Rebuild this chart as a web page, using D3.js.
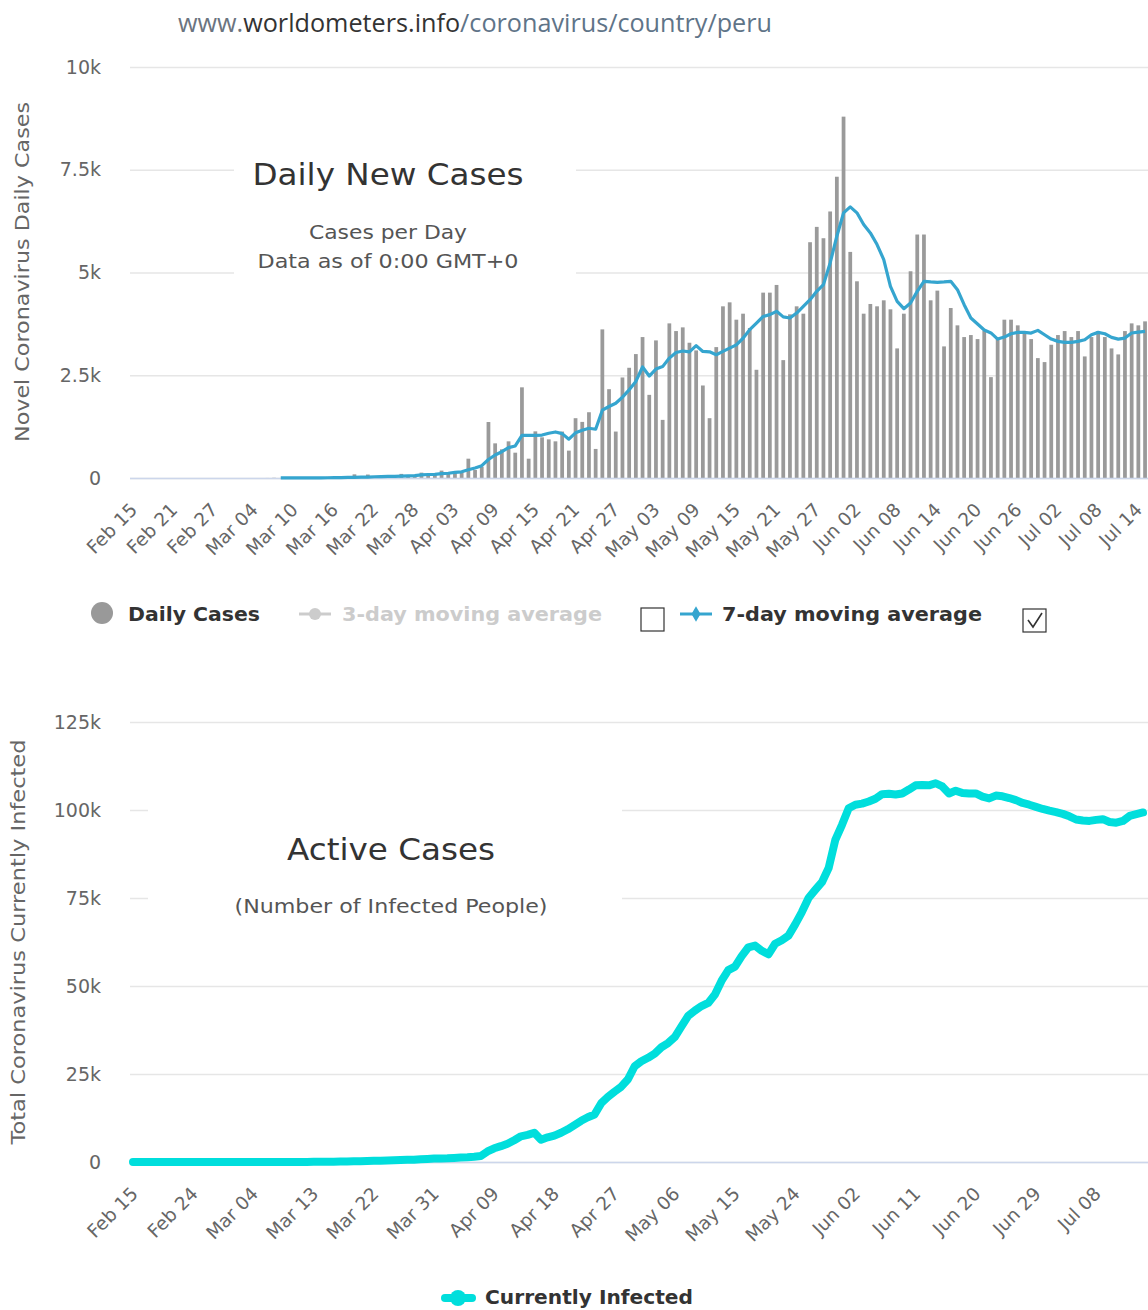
<!DOCTYPE html>
<html>
<head>
<meta charset="utf-8">
<script src="https://cdnjs.cloudflare.com/ajax/libs/d3/7.8.5/d3.min.js"></script>
<style>
body { margin: 0; background: #fff; }
svg { display: block; font-family: "DejaVu Sans", "Noto Sans", sans-serif; }
</style>
</head>
<body>
<div class="container"></div>
<script>
// categories: one per day, Feb 15 .. Jul 15 2020
var days = d3.timeDay.range(new Date(2020, 1, 15), new Date(2020, 6, 16));
var fmt = d3.timeFormat("%b %d");
var categories = days.map(fmt);

// daily new cases (bars)
var dailyCases = [
  0,0,0,0,0,0,0,0,0,0,0,0,0,0,0,0,0,0,0,0,
  1,5,0,3,2,6,5,16,5,28,15,31,28,89,0,84,45,32,21,64,100,55,36,
  130,90,115,180,115,150,150,470,195,275,1362,843,697,892,616,2206,470,1135,989,940,892,
  1130,666,1455,1365,1600,707,3616,2161,1130,2446,2682,3015,3429,2023,3348,1414,3762,3575,3665,3291,
  3104,2251,1455,3185,4177,4274,3852,3998,3649,2633,4510,4510,4697,2868,3982,4177,
  3998,5737,6110,5834,6485,7330,8792,5501,4786,3998,4234,4177,4323,4104,3153,3998,5030,5924,5924,4323,
  4559,3202,4136,3714,3429,3478,3380,3584,2454,3380,
  3852,3852,3714,3567,3380,2917,2820,3242,3478,3575,3429,3575,2958,3429,3575,3429,3153,3007,3575,3762,
  3714,3811
];

// 7-day moving average (line)
var avg7 = [
  null,null,null,null,null,null,null,null,null,null,null,null,null,null,null,null,null,null,null,null,null,null,
  1,1,2,2,3,4,5,6,8,10,13,15,21,22,30,34,38,40,46,52,58,
  75,85,90,105,115,135,150,200,245,300,450,560,640,740,780,1035,1040,1035,1045,1090,1120,
  1080,945,1100,1160,1210,1186,1650,1740,1820,1966,2145,2350,2700,2480,2650,2710,2917,3055,3090,3070,
  3220,3080,3070,3000,3080,3160,3240,3400,3610,3770,3930,3975,4055,3920,3892,4014,
  4177,4339,4542,4705,5233,5883,6452,6598,6452,6168,5964,5680,5314,4664,4299,4120,4258,4542,4786,4770,
  4762,4770,4786,4583,4217,3892,3746,3600,3530,3380,
  3429,3510,3543,3543,3527,3592,3486,3380,3324,3299,3299,3324,3364,3486,3543,3510,3421,3380,3405,3527,
  3551,3567
];

// active cases (currently infected)
var activeCases = [
  0,0,0,0,0,0,0,0,0,0,0,0,0,0,0,0,0,0,0,0,
  1,6,7,9,11,17,22,38,43,71,86,117,145,232,232,313,355,386,404,463,
  560,612,645,800,880,970,1000,1050,1150,1250,1350,1500,
  1700,3000,3900,4500,5200,6200,7300,7700,8300,6300,7000,7500,8300,9300,10500,11700,12700,13500,16700,18500,
  20000,21400,23500,27200,28600,29600,30800,32600,33800,35500,38500,41500,43000,44300,45200,47600,51500,54500,55500,58500,
  61000,61500,60000,59000,62000,63000,64300,
  67500,71000,75000,77300,79500,83500,91500,95800,100500,101500,
  101800,102400,103200,104500,104600,104400,104700,105800,107000,107100,
  107000,107600,106700,104700,105500,104800,104700,104700,103800,103300,
  104100,103900,103400,102800,102000,101500,100900,100300,99800,99400,
  98900,98200,97300,97000,96900,97200,97400,96600,96400,96900,
  98300,98800,99300
];

var dailyTickLabels = ["Feb 15","Feb 21","Feb 27","Mar 04","Mar 10","Mar 16","Mar 22","Mar 28",
  "Apr 03","Apr 09","Apr 15","Apr 21","Apr 27","May 03","May 09","May 15","May 21","May 27",
  "Jun 02","Jun 08","Jun 14","Jun 20","Jun 26","Jul 02","Jul 08","Jul 14"];
var activeTickLabels = ["Feb 15","Feb 24","Mar 04","Mar 13","Mar 22","Mar 31","Apr 09","Apr 18",
  "Apr 27","May 06","May 15","May 24","Jun 02","Jun 11","Jun 20","Jun 29","Jul 08"];
var dailyYTicks = [0, 2500, 5000, 7500, 10000];
var activeYTicks = [0, 25000, 50000, 75000, 100000, 125000];

var svg = d3.select(".container").insert("svg")
  .attr("width", 1148)
  .attr("height", 1310);

function kfmt(v) { return v === 0 ? "0" : (v / 1000) + "k"; }

// stretch a text to the width it has in the picture
function fit(sel, w) {
  return sel.attr("textLength", w).attr("lengthAdjust", "spacingAndGlyphs");
}

function drawGrid(y, ticks, left, right) {
  svg.append("g")
    .attr("transform", "translate(" + left + ",0)")
    .call(d3.axisLeft(y).tickValues(ticks).tickSize(-(right - left)).tickFormat(""))
    .call(function (g) { g.select(".domain").remove(); })
    .selectAll("line").attr("stroke", "#e6e6e6").attr("stroke-width", 1.5);
  svg.append("g")
    .attr("transform", "translate(101,0)")
    .call(d3.axisLeft(y).tickValues(ticks).tickSize(0).tickFormat(kfmt))
    .call(function (g) { g.select(".domain").remove(); })
    .selectAll("text")
    .attr("x", 0)
    .style("font-family", "DejaVu Sans")
    .style("font-size", "19px")
    .attr("fill", "#666");
}

function drawXLabels(x, labels, y0, offset) {
  svg.append("g").selectAll("text")
    .data(labels).enter().append("text")
    .attr("transform", function (d) { return "translate(" + (x(d) + offset) + "," + (y0 + 33) + ") rotate(-45)"; })
    .attr("text-anchor", "end")
    .style("font-size", "18.5px")
    .attr("fill", "#666")
    .text(function (d) { return d; });
}

function yTitle(text, cx, cy, w) {
  fit(svg.append("text")
    .attr("transform", "translate(" + cx + "," + cy + ") rotate(-90)")
    .attr("text-anchor", "middle")
    .style("font-size", "19px")
    .attr("fill", "#666")
    .text(text), w);
}

function titleBlock(cx, title, ty, tw, subs, sy, sw, box) {
  svg.append("rect").attr("x", box[0]).attr("y", box[1]).attr("width", box[2]).attr("height", box[3]).attr("fill", "#fff");
  fit(svg.append("text").attr("x", cx - tw / 2).attr("y", ty)
    .style("font-size", "31px").attr("fill", "#333").text(title), tw);
  subs.forEach(function (s, k) {
    fit(svg.append("text").attr("x", cx - sw[k] / 2).attr("y", sy + k * 29)
      .style("font-size", "19.5px").attr("fill", "#555").text(s), sw[k]);
  });
}

// url header
var url = svg.append("text").attr("x", 178).attr("y", 32).style("font-family", "Open Sans").style("font-size", "25px");
url.append("tspan").attr("fill", "#6b7480").text("www.");
url.append("tspan").attr("fill", "#333").text("worldometers.info");
url.append("tspan").attr("fill", "#5f7488").text("/coronavirus/country/peru");
fit(url, 594);

// ---------- top chart: daily new cases ----------
var x1 = d3.scaleBand().domain(categories).range([130, 130 + categories.length * 6.7]).paddingInner(0.44).paddingOuter(0.22);
var y1 = d3.scaleLinear().domain([0, 10000]).range([478, 67]);

drawGrid(y1, dailyYTicks, 130, 1148);
titleBlock(388, "Daily New Cases", 185, 271, ["Cases per Day", "Data as of 0:00 GMT+0"], 239, [158, 261], [234, 140, 342, 152]);

svg.append("g").selectAll("rect")
  .data(dailyCases).enter().append("rect")
  .attr("x", function (d, i) { return x1(categories[i]); })
  .attr("width", x1.bandwidth())
  .attr("y", function (d) { return y1(d); })
  .attr("height", function (d) { return 478 - y1(d); })
  .attr("fill", "#9a9a9a");

svg.append("line").attr("x1", 130).attr("x2", 1148).attr("y1", 478.5).attr("y2", 478.5)
  .attr("stroke", "#ccd6eb").attr("stroke-width", 1.5);

var line7 = d3.line()
  .defined(function (d) { return d !== null; })
  .x(function (d, i) { return x1(categories[i]) + x1.bandwidth() / 2; })
  .y(function (d) { return y1(d); });
svg.append("path").datum(avg7).attr("d", line7)
  .attr("fill", "none").attr("stroke", "#35a5cf").attr("stroke-width", 3.2).attr("stroke-linejoin", "round");

var x1c = function (d) { return x1(d) + x1.bandwidth() / 2; };
drawXLabels(x1c, dailyTickLabels, 478, 5);
yTitle("Novel Coronavirus Daily Cases", 29, 272, 340);

// legend top
var lg = svg.append("g").style("font-weight", "bold").style("font-size", "20px");
lg.append("circle").attr("cx", 102).attr("cy", 613).attr("r", 11).attr("fill", "#999");
fit(lg.append("text").attr("x", 128).attr("y", 621).attr("fill", "#333").text("Daily Cases"), 132);
lg.append("line").attr("x1", 299).attr("x2", 331).attr("y1", 614).attr("y2", 614).attr("stroke", "#ccc").attr("stroke-width", 3);
lg.append("circle").attr("cx", 315).attr("cy", 614).attr("r", 6).attr("fill", "#ccc");
fit(lg.append("text").attr("x", 342).attr("y", 621).attr("fill", "#ccc").text("3-day moving average"), 260);
lg.append("rect").attr("x", 641).attr("y", 608).attr("width", 23).attr("height", 23).attr("fill", "#fff").attr("stroke", "#333").attr("stroke-width", 1.2);
lg.append("line").attr("x1", 680).attr("x2", 712).attr("y1", 614).attr("y2", 614).attr("stroke", "#35a5cf").attr("stroke-width", 3);
lg.append("path").attr("d", d3.symbol(d3.symbolDiamond, 70)()).attr("transform", "translate(696,614)").attr("fill", "#35a5cf");
fit(lg.append("text").attr("x", 722).attr("y", 621).attr("fill", "#333").text("7-day moving average"), 260);
lg.append("rect").attr("x", 1023).attr("y", 609).attr("width", 23).attr("height", 23).attr("fill", "#fff").attr("stroke", "#333").attr("stroke-width", 1.2);
lg.append("path").attr("d", "M1028,620 L1033,627 L1042,613").attr("fill", "none").attr("stroke", "#333").attr("stroke-width", 1.6);

// ---------- bottom chart: active cases ----------
var x2 = d3.scalePoint().domain(categories).range([133, 1143]);
var y2 = d3.scaleLinear().domain([0, 125000]).range([1162, 722]);

drawGrid(y2, activeYTicks, 130, 1148);
titleBlock(391, "Active Cases", 860, 208, ["(Number of Infected People)"], 913, [313], [148, 790, 474, 140]);

svg.append("line").attr("x1", 130).attr("x2", 1148).attr("y1", 1162.5).attr("y2", 1162.5)
  .attr("stroke", "#ccd6eb").attr("stroke-width", 1.5);

var lineA = d3.line()
  .x(function (d, i) { return x2(categories[i]); })
  .y(function (d) { return y2(d); });
svg.append("path").datum(activeCases).attr("d", lineA)
  .attr("fill", "none").attr("stroke", "#00dedc").attr("stroke-width", 8)
  .attr("stroke-linejoin", "round").attr("stroke-linecap", "round");

drawXLabels(x2, activeTickLabels, 1162, 6);
yTitle("Total Coronavirus Currently Infected", 25, 942, 405);

// legend bottom
var lb = svg.append("g").style("font-weight", "bold").style("font-size", "20px");
lb.append("line").attr("x1", 445).attr("x2", 472).attr("y1", 1298).attr("y2", 1298).attr("stroke", "#00dedc").attr("stroke-width", 8).attr("stroke-linecap", "round");
lb.append("circle").attr("cx", 458).attr("cy", 1298).attr("r", 8).attr("fill", "#00dedc");
fit(lb.append("text").attr("x", 485).attr("y", 1304).attr("fill", "#333").text("Currently Infected"), 208);
</script>
</body>
</html>
